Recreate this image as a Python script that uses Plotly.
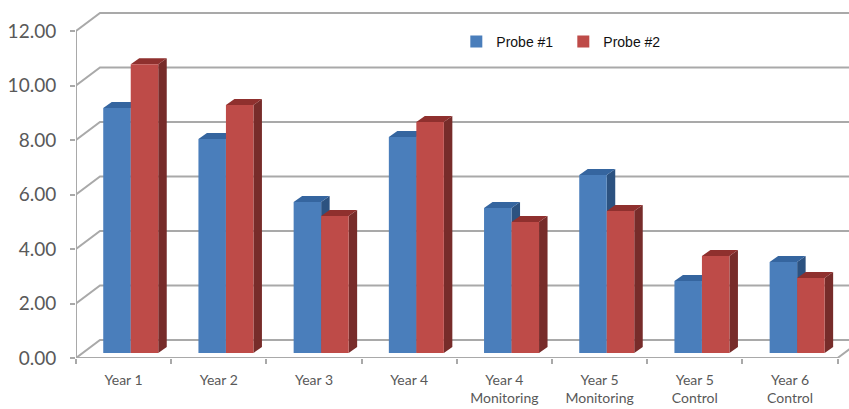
import plotly.graph_objects as go

categories = ["Year 1", "Year 2", "Year 3", "Year 4", "Year 4<br>Monitoring",
              "Year 5<br>Monitoring", "Year 5<br>Control", "Year 6<br>Control"]
probe_1 = [8.99, 7.85, 5.54, 7.93, 5.32, 6.53, 2.64, 3.34]
probe_2 = [10.6, 9.1, 5.03, 8.48, 4.81, 5.21, 3.56, 2.75]
y_ticks = [0, 2, 4, 6, 8, 10, 12]

W, H = 849, 409
L, B = 76, 51
X_UNIT = 95.2      # pixels per category
Y_UNIT = 27.25     # pixels per value unit
xmax = (W - L) / X_UNIT
ymax = (H - B) / Y_UNIT
n = len(categories)

# depth of the walls and of the bars, in data units
wall_dx, wall_dy = 24 / X_UNIT, 18 / Y_UNIT
bar_dx, bar_dy = 8.5 / X_UNIT, 6 / Y_UNIT
bar_base = 5 / Y_UNIT
bar_w = 27.5 / X_UNIT
bar_shift = 0.575

GRID = "#a9a9a9"
BLUE, BLUE_SIDE, BLUE_TOP = "#4a7ebb", "#2c5280", "#35659f"
RED, RED_SIDE, RED_TOP = "#be4b48", "#772c2a", "#8f302e"

fig = go.Figure()


def line(xs, ys):
    fig.add_trace(go.Scatter(x=xs, y=ys, mode="lines", showlegend=False, hoverinfo="skip",
                             cliponaxis=False, zorder=0,
                             line=dict(color=GRID, width=2)))


# back and side walls
for v in y_ticks:
    line([0, wall_dx, xmax], [v, v + wall_dy, v + wall_dy])
# axis lines
line([0, 0], [0, y_ticks[-1]])
line([0, n, n + wall_dx], [0, 0, wall_dy])


def depth(values, left, side_color, top_color, z):
    side_x, side_y, top_x, top_y = [], [], [], []
    for i, v in enumerate(values):
        x0 = i + left
        x1 = x0 + bar_w
        h = bar_base + v
        side_x += [x1, x1 + bar_dx, x1 + bar_dx, x1, x1, None]
        side_y += [bar_base, bar_base + bar_dy, h + bar_dy, h, bar_base, None]
        top_x += [x0, x0 + bar_dx, x1 + bar_dx, x1, x0, None]
        top_y += [h, h + bar_dy, h + bar_dy, h, h, None]
    for xs, ys, c in ((side_x, side_y, side_color), (top_x, top_y, top_color)):
        fig.add_trace(go.Scatter(x=xs, y=ys, mode="lines", fill="toself", fillcolor=c,
                                 line=dict(width=0, color=c), showlegend=False,
                                 hoverinfo="skip", zorder=z))


centers = [i + bar_shift for i in range(n)]
depth(probe_1, bar_shift - bar_w, BLUE_SIDE, BLUE_TOP, 1)
fig.add_trace(go.Bar(x=centers, y=probe_1, base=bar_base, name="Probe #1", width=bar_w,
                     offset=-bar_w, marker=dict(color=BLUE, line=dict(width=0)), zorder=2))
depth(probe_2, bar_shift, RED_SIDE, RED_TOP, 3)
fig.add_trace(go.Bar(x=centers, y=probe_2, base=bar_base, name="Probe #2", width=bar_w,
                     offset=0, marker=dict(color=RED, line=dict(width=0)), zorder=4))

fig.update_layout(
    width=W, height=H, autosize=False,
    margin=dict(l=L, r=0, t=0, b=B, pad=0),
    paper_bgcolor="white", plot_bgcolor="white",
    barmode="overlay",
    legend=dict(orientation="h", x=0.492, xanchor="left", y=0.883, yanchor="middle",
                font=dict(family="Liberation Sans", size=14, color="#111111"),
                bgcolor="rgba(0,0,0,0)", entrywidth=62, entrywidthmode="pixels",
                itemclick=False, itemdoubleclick=False),
    xaxis=dict(range=[0, xmax], showgrid=False, zeroline=False, showline=False,
               tickmode="array", tickvals=[i + 0.5 for i in range(n)], ticktext=categories,
               ticks="", ticklabelstandoff=12,
               tickfont=dict(family="Lato", size=14, color="#595959"),
               minor=dict(tickmode="array", tickvals=list(range(n + 1)), ticks="outside",
                          ticklen=5, tickwidth=2, tickcolor=GRID, showgrid=False)),
    yaxis=dict(range=[0, ymax], showgrid=False, zeroline=False, showline=False,
               tickmode="array", tickvals=y_ticks, tickformat=".2f",
               ticks="outside", ticklen=5, tickwidth=2, tickcolor=GRID,
               ticklabelstandoff=10,
               tickfont=dict(family="Lato", size=19, color="#595959")),
)

fig.write_html("out.html", config={"displayModeBar": False},
               post_script="document.body.style.margin='0';")
